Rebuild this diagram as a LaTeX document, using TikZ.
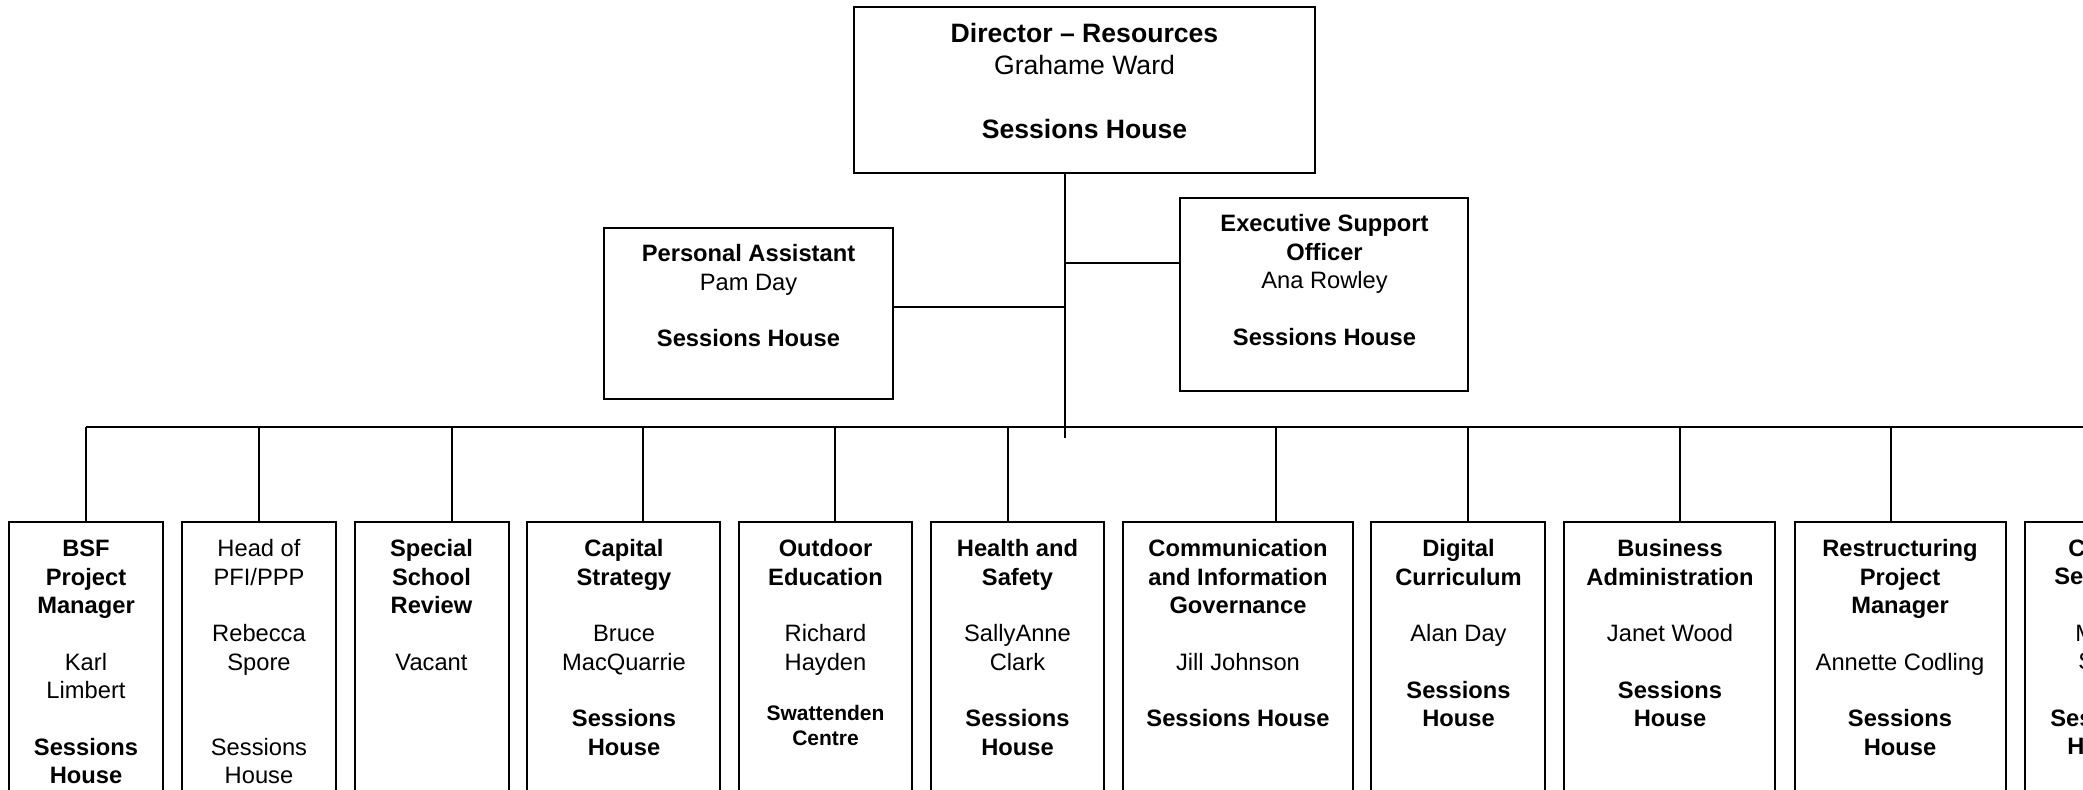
\documentclass[tikz,border=0pt]{standalone}
\usepackage{fontspec}
\setmainfont{Liberation Sans}
\usetikzlibrary{fit}
\newlength\bl
\setlength\bl{14.15pt}
\newcommand\fmain{\fontsize{11.85pt}{14.15pt}\selectfont}
\newcommand\fbig{\fontsize{13.3pt}{16pt}\selectfont}
\newcommand\fsmall{\fontsize{10.5pt}{12.5pt}\selectfont}
\newcommand\st{\rule{0pt}{10pt}}
\newcommand\stb{\rule{0pt}{11pt}}
\newcommand\sts{\rule{0pt}{9pt}}
\tikzset{
  box/.style={draw=black, line width=0.9pt, inner sep=0pt, fill=none},
  txt/.style={font=\fmain, align=center, inner sep=0pt, anchor=north},
  frag/.style={font=\fmain, inner sep=0pt, anchor=base west},
  conn/.style={draw=black, line width=0.9pt}
}
\begin{document}
\begin{tikzpicture}[x=0.5pt,y=-0.5pt]
\useasboundingbox (0,0) rectangle (2083,789);
\clip (0,0) rectangle (2083,789);
\fill[white] (0,0) rectangle (2083,789);

% top boxes
\node[box, fit={(854,7) (1315,173)}] (dir) {};
\node[txt, font=\fbig] (dirt) at (1084.5,20.5) {\stb\textbf{Director – Resources}\\Grahame Ward\\[16pt]\textbf{Sessions House}};
\node[box, fit={(604,228) (893,399)}] (pa) {};
\node[txt] (pat) at (748.5,241.5) {\st\textbf{Personal Assistant}\\Pam Day\\[\bl]\textbf{Sessions House}};
\node[box, fit={(1180,198) (1468,391)}] (eso) {};
\node[txt] (esot) at (1324.5,211.5) {\st\textbf{Executive Support}\\\textbf{Officer}\\Ana Rowley\\[\bl]\textbf{Sessions House}};

% spine and connectors
\coordinate (spineEnd) at (1065,438);
\coordinate (paJ) at (1065,307);
\coordinate (esoJ) at (1065,263);
\draw[conn] (dir.south -| spineEnd) -- (spineEnd);
\draw[conn] (pa.east |- paJ) -- (paJ);
\draw[conn] (esoJ) -- (eso.west |- esoJ);
\coordinate (busL) at (86,427);
\coordinate (busR) at (2100,427);
\draw[conn] (busL) -- (busR);

% bottom boxes
\node[box, fit={(9,522) (163,800)}] (b1) {};
\node[box, fit={(182,522) (336,800)}] (b2) {};
\node[box, fit={(355,522) (509,800)}] (b3) {};
\node[box, fit={(527,522) (720,800)}] (b4) {};
\node[box, fit={(739,522) (912,800)}] (b5) {};
\node[box, fit={(931,522) (1104,800)}] (b6) {};
\node[box, fit={(1123,522) (1353,800)}] (b7) {};
\node[box, fit={(1371,522) (1545,800)}] (b8) {};
\node[box, fit={(1564,522) (1775,800)}] (b9) {};
\node[box, fit={(1795,522) (2006,800)}] (b10) {};
\node[box, fit={(2025,522) (2200,800)}] (b11) {};

% drops
\coordinate (d1) at (86,427);
\coordinate (d2) at (259,427);
\coordinate (d3) at (452,427);
\coordinate (d4) at (643,427);
\coordinate (d5) at (835,427);
\coordinate (d6) at (1008,427);
\coordinate (d7) at (1276,427);
\coordinate (d8) at (1468,427);
\coordinate (d9) at (1680,427);
\coordinate (d10) at (1891,427);
\foreach \i in {1,...,10} {\draw[conn] (d\i) -- (d\i |- b\i.north);}

% texts
\node[txt] (t1) at (86,536.5) {\st\textbf{BSF}\\\textbf{Project}\\\textbf{Manager}\\[\bl]Karl\\Limbert\\[\bl]\textbf{Sessions}\\\textbf{House}};
\node[txt] (t2) at (259,536.5) {\st Head of\\PFI/PPP\\[\bl]Rebecca\\Spore\\[2\bl]Sessions\\House};
\node[txt] (t3) at (431.5,536.5) {\st\textbf{Special}\\\textbf{School}\\\textbf{Review}\\[\bl]Vacant};
\node[txt] (t4) at (624,536.5) {\st\textbf{Capital}\\\textbf{Strategy}\\[\bl]Bruce\\MacQuarrie\\[\bl]\textbf{Sessions}\\\textbf{House}};
\node[txt] (t5) at (825.5,536.5) {\st\textbf{Outdoor}\\\textbf{Education}\\[\bl]Richard\\Hayden};
\node[txt, font=\fsmall] (t5b) at (825.5,702.5) {\sts\textbf{Swattenden}\\\textbf{Centre}};
\node[txt] (t6) at (1017.5,536.5) {\st\textbf{Health and}\\\textbf{Safety}\\[\bl]SallyAnne\\Clark\\[\bl]\textbf{Sessions}\\\textbf{House}};
\node[txt] (t7) at (1238,536.5) {\st\textbf{Communication}\\\textbf{and Information}\\\textbf{Governance}\\[\bl]Jill Johnson\\[\bl]\textbf{Sessions House}};
\node[txt] (t8) at (1458.5,536.5) {\st\textbf{Digital}\\\textbf{Curriculum}\\[\bl]Alan Day\\[\bl]\textbf{Sessions}\\\textbf{House}};
\node[txt] (t9) at (1670,536.5) {\st\textbf{Business}\\\textbf{Administration}\\[\bl]Janet Wood\\[\bl]\textbf{Sessions}\\\textbf{House}};
\node[txt] (t10) at (1900,536.5) {\st\textbf{Restructuring}\\\textbf{Project}\\\textbf{Manager}\\[\bl]Annette Codling\\[\bl]\textbf{Sessions}\\\textbf{House}};

% cut-off last box fragments
\node[frag] (f1) at (2068,556.5) {\textbf{C}};
\node[frag] (f2) at (2054,584.8) {\textbf{Se}};
\node[frag] (f3) at (2075,641.4) {M};
\node[frag] (f4) at (2078,669.7) {S};
\node[frag] (f5) at (2050,726.3) {\textbf{Ses}};
\node[frag] (f6) at (2067,754.6) {\textbf{H}};
\end{tikzpicture}
\end{document}
